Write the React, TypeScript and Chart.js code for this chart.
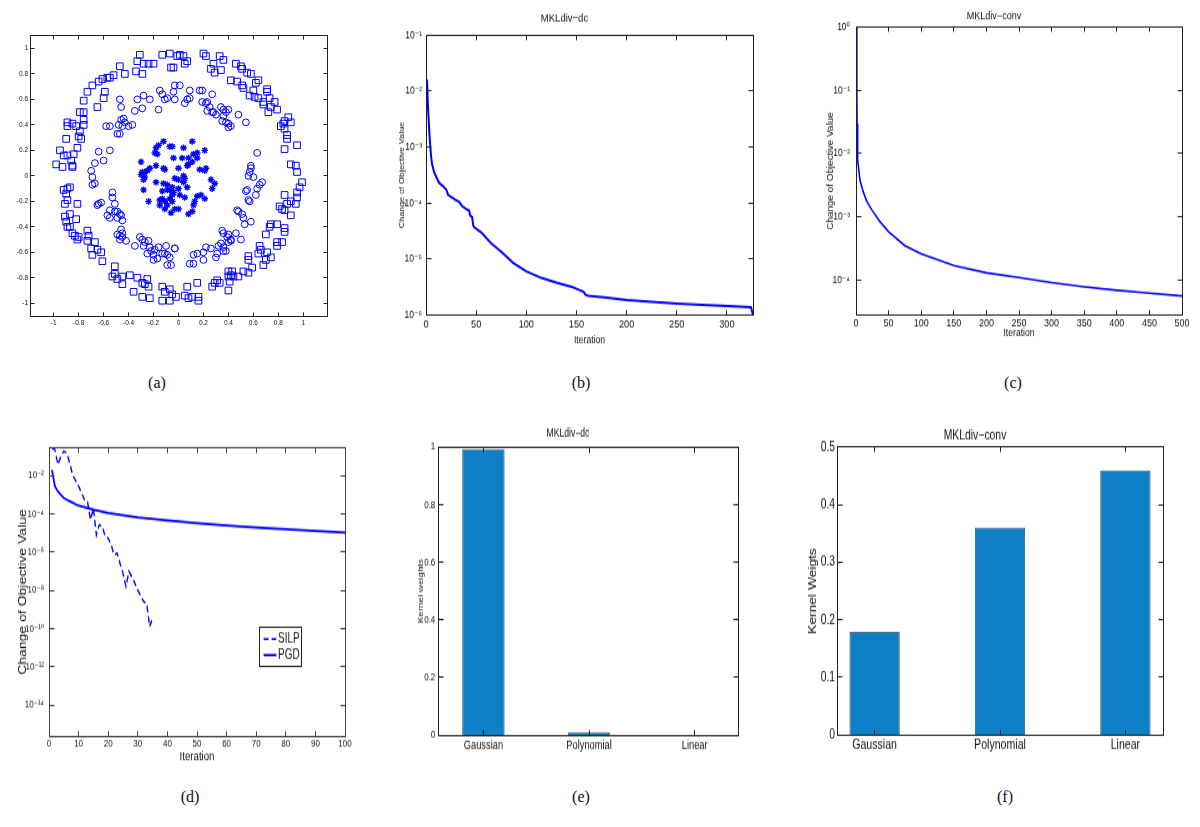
import React, { useEffect, useRef } from 'react';
import { Chart, registerables } from 'chart.js';

Chart.register(...registerables);

// ---------------- data ----------------
// (a) toy data: three concentric classes
const SQUARES: [number, number][] = [
  [-0.13,0.95],[-0.07,0.96],[-0.01,0.94],[-0.06,0.85],[-0.04,0.85],[-0.31,0.95],[-0.33,0.90],[-0.28,0.88],[-0.24,0.88],[-0.20,0.88],
  [-0.34,0.82],[-0.29,0.80],[-0.47,0.86],[-0.43,0.80],[-0.52,0.79],[-0.55,0.77],[-0.57,0.77],[-0.61,0.76],[-0.64,0.74],[-0.69,0.71],
  [-0.73,0.66],[-0.59,0.66],[-0.60,0.61],[-0.76,0.59],[-0.65,0.54],[-0.79,0.50],[-0.76,0.50],[-0.76,0.44],[-0.76,0.40],[-0.89,0.42],
  [-0.85,0.41],[-0.89,0.39],[-0.82,0.39],[-0.79,0.35],[-0.80,0.31],[-0.78,0.29],[-0.90,0.29],[-0.81,0.22],[-0.95,0.20],[-0.92,0.16],
  [-0.89,0.16],[-0.84,0.17],[-0.86,0.12],[-0.85,0.08],[-0.85,0.07],[-0.98,0.09],[-0.93,0.07],[-0.92,-0.11],[-0.89,-0.10],[-0.87,-0.09],
  [-0.90,-0.14],[-0.89,-0.19],[-0.91,-0.22],[-0.81,-0.22],[-0.91,-0.32],[-0.87,-0.30],[-0.90,-0.36],[-0.89,-0.40],[-0.82,-0.34],[-0.87,-0.40],
  [-0.85,-0.45],[-0.83,-0.47],[-0.81,-0.50],[-0.80,-0.48],[-0.73,-0.43],[-0.72,-0.47],[-0.73,-0.51],[-0.67,-0.52],[-0.70,-0.57],[-0.69,-0.62],
  [-0.65,-0.58],[-0.62,-0.60],[-0.61,-0.67],[-0.51,-0.71],[-0.53,-0.79],[-0.51,-0.77],[-0.49,-0.81],[-0.45,-0.79],[-0.45,-0.85],[-0.39,-0.78],
  [-0.33,-0.80],[-0.29,-0.84],[-0.25,-0.81],[-0.27,-0.85],[-0.24,-0.87],[-0.36,-0.91],[-0.29,-0.95],[-0.23,-0.96],[-0.13,-0.87],[-0.11,-0.91],
  [-0.07,-0.89],[-0.05,-0.93],[-0.02,-0.95],[-0.13,-0.98],[-0.07,-0.98],
  [0.01,0.95],[0.04,0.94],[0.05,0.88],[0.07,0.90],[0.20,0.96],[0.22,0.94],[0.28,0.88],[0.26,0.84],[0.29,0.81],[0.34,0.83],
  [0.33,0.94],[0.36,0.91],[0.46,0.88],[0.50,0.86],[0.51,0.84],[0.55,0.81],[0.58,0.80],[0.42,0.75],[0.47,0.74],[0.51,0.71],
  [0.52,0.69],[0.64,0.75],[0.62,0.73],[0.60,0.67],[0.57,0.63],[0.61,0.62],[0.64,0.61],[0.71,0.68],[0.71,0.66],[0.73,0.61],
  [0.68,0.58],[0.68,0.56],[0.74,0.54],[0.77,0.58],[0.79,0.52],[0.72,0.50],[0.85,0.43],[0.88,0.46],[0.90,0.42],[0.84,0.41],
  [0.82,0.39],[0.85,0.37],[0.87,0.32],[0.87,0.29],[0.95,0.24],[0.85,0.21],[0.90,0.09],[0.94,0.08],[0.95,0.03],[0.99,-0.05],
  [0.97,-0.09],[0.95,-0.13],[0.95,-0.17],[0.94,-0.22],[0.90,-0.20],[0.85,-0.15],[0.87,-0.22],[0.81,-0.24],[0.83,-0.26],[0.90,-0.31],
  [0.85,-0.27],[0.74,-0.38],[0.79,-0.38],[0.73,-0.40],[0.70,-0.46],[0.85,-0.41],[0.85,-0.44],[0.83,-0.52],[0.79,-0.52],[0.79,-0.55],
  [0.65,-0.55],[0.66,-0.58],[0.64,-0.61],[0.71,-0.60],[0.74,-0.64],[0.70,-0.66],[0.68,-0.70],[0.56,-0.63],[0.56,-0.66],[0.59,-0.72],
  [0.52,-0.75],[0.56,-0.76],[0.40,-0.75],[0.43,-0.75],[0.42,-0.78],[0.44,-0.79],[0.40,-0.79],[0.41,-0.83],[0.48,-0.79],[0.40,-0.90],
  [0.31,-0.82],[0.29,-0.84],[0.27,-0.87],[0.33,-0.84],[0.15,-0.84],[0.07,-0.87],[0.05,-0.94],[0.08,-0.96],[0.11,-0.95],[0.16,-0.95],
  [0.16,-0.98],
];

const CIRCLES: [number, number][] = [
  [-0.15,0.67],[-0.13,0.64],[-0.11,0.60],[-0.09,0.61],[-0.16,0.52],[-0.23,0.60],[-0.28,0.63],[-0.29,0.53],[-0.33,0.60],[-0.35,0.51],
  [-0.47,0.60],[-0.46,0.54],[-0.44,0.45],[-0.46,0.44],[-0.48,0.40],[-0.45,0.39],[-0.43,0.42],[-0.40,0.39],[-0.37,0.40],[-0.55,0.39],
  [-0.58,0.39],[-0.49,0.33],[-0.47,0.33],[-0.64,0.19],[-0.67,0.10],[-0.55,0.20],[-0.60,0.12],[-0.70,0.04],[-0.69,-0.01],[-0.67,-0.06],
  [-0.69,-0.07],[-0.65,-0.23],[-0.64,-0.22],[-0.62,-0.21],[-0.53,-0.13],[-0.53,-0.17],[-0.51,-0.22],[-0.55,-0.27],[-0.55,-0.33],[-0.57,-0.31],
  [-0.51,-0.28],[-0.49,-0.28],[-0.47,-0.30],[-0.46,-0.31],[-0.49,-0.33],[-0.45,-0.35],[-0.49,-0.46],[-0.47,-0.47],[-0.46,-0.42],[-0.45,-0.45],
  [-0.45,-0.48],[-0.47,-0.50],[-0.42,-0.51],[-0.35,-0.55],[-0.31,-0.48],[-0.29,-0.50],[-0.27,-0.52],[-0.28,-0.55],[-0.24,-0.51],[-0.23,-0.56],
  [-0.25,-0.61],[-0.22,-0.59],[-0.20,-0.62],[-0.20,-0.66],[-0.17,-0.65],[-0.19,-0.58],[-0.16,-0.56],[-0.10,-0.55],[-0.11,-0.61],[-0.13,-0.61],
  [-0.09,-0.62],[-0.07,-0.64],[-0.09,-0.70],[-0.06,-0.70],[-0.03,-0.57],
  [-0.03,0.71],[0.01,0.71],[-0.04,0.66],[-0.03,0.60],[0.05,0.57],[0.07,0.60],[0.09,0.61],[0.09,0.67],[0.17,0.67],[0.19,0.67],
  [0.27,0.64],[0.19,0.58],[0.22,0.57],[0.23,0.58],[0.25,0.54],[0.27,0.50],[0.23,0.51],[0.28,0.50],[0.30,0.48],[0.34,0.54],
  [0.36,0.52],[0.40,0.52],[0.38,0.50],[0.36,0.47],[0.35,0.43],[0.38,0.42],[0.40,0.41],[0.42,0.39],[0.40,0.38],[0.48,0.48],
  [0.54,0.42],[0.63,0.18],[0.58,0.08],[0.58,0.06],[0.57,0.03],[0.56,0.00],[0.60,-0.01],[0.67,-0.05],[0.65,-0.07],[0.63,-0.10],
  [0.62,-0.15],[0.55,-0.11],[0.54,-0.12],[0.56,-0.19],[0.57,-0.20],[0.47,-0.27],[0.48,-0.28],[0.51,-0.30],[0.52,-0.33],[0.58,-0.36],
  [0.53,-0.38],[0.35,-0.43],[0.36,-0.45],[0.40,-0.46],[0.39,-0.48],[0.42,-0.50],[0.40,-0.52],[0.42,-0.51],[0.46,-0.45],[0.50,-0.50],
  [0.34,-0.53],[0.32,-0.55],[0.36,-0.56],[0.38,-0.59],[0.36,-0.59],[0.31,-0.61],[0.26,-0.57],[0.22,-0.56],[0.20,-0.60],[0.15,-0.61],
  [0.12,-0.62],[0.09,-0.69],[0.12,-0.69],[0.20,-0.66],[0.30,-0.64],[-0.03,-0.57],
];

const STARS: [number, number][] = [
  [-0.12,0.27],[0.11,0.27],[-0.07,0.23],[-0.05,0.23],[-0.18,0.22],[-0.16,0.24],[0.04,0.22],[0.21,0.20],[-0.19,0.18],[-0.17,0.17],
  [0.15,0.18],[0.12,0.17],[-0.04,0.14],[0.03,0.14],[0.08,0.14],[0.15,0.14],[0.11,0.11],[-0.30,0.11],[-0.18,0.08],[0.08,0.09],
  [0.07,0.08],[-0.12,0.06],[-0.11,0.05],[-0.23,0.06],[-0.25,0.04],[-0.27,0.03],[-0.29,0.03],[0.00,0.06],[0.17,0.05],[0.22,0.06],
  [0.21,0.04],[-0.30,0.01],[-0.27,-0.01],[-0.28,-0.03],[-0.03,-0.02],[0.00,-0.03],[0.04,0.00],[0.05,-0.02],[0.04,-0.05],[0.26,-0.03],
  [0.29,-0.06],[0.27,-0.10],[-0.18,-0.05],[-0.12,-0.06],[-0.09,-0.07],[-0.07,-0.11],[-0.05,-0.09],[-0.04,-0.13],[0.00,-0.10],[0.07,-0.09],
  [0.01,-0.15],[-0.05,-0.15],[-0.09,-0.11],[-0.13,-0.12],[-0.28,-0.11],[-0.24,-0.20],[-0.15,-0.19],[-0.13,-0.18],[-0.11,-0.20],[-0.09,-0.23],
  [-0.07,-0.18],[-0.05,-0.20],[-0.03,-0.26],[-0.06,-0.29],[0.00,-0.26],[-0.11,-0.26],[-0.15,-0.23],[0.08,-0.30],[0.11,-0.28],[0.12,-0.23],
  [0.13,-0.20],[0.15,-0.16],[0.18,-0.15],[0.21,-0.18],[0.05,-0.17],
];
const A_TICKS = [-1, -0.8, -0.6, -0.4, -0.2, 0, 0.2, 0.4, 0.6, 0.8, 1];

// (b) MKLdiv-dc convergence
const DC_ITER = [1,2,3,4,5,6,8,10,13,17,20,21,22,26,30,33,36,40,43,44,46,47,48,55,65,75,87,100,115,130,145,157,159,162,180,200,225,250,275,300,324,326];
const DC_CHANGE = [1.6e-2,5e-3,2.3e-3,1.2e-3,7e-4,5e-4,3.6e-4,3e-4,2.3e-4,2e-4,1.75e-4,1.6e-4,1.4e-4,1.25e-4,1.12e-4,1.05e-4,8.8e-5,7.8e-5,7.3e-5,6e-5,5.6e-5,4e-5,3.7e-5,3e-5,1.9e-5,1.35e-5,8.5e-6,6e-6,4.6e-6,3.8e-6,3.2e-6,2.6e-6,2.3e-6,2.2e-6,2.05e-6,1.86e-6,1.72e-6,1.6e-6,1.52e-6,1.45e-6,1.38e-6,1e-6];
const B_XTICKS = [0, 50, 100, 150, 200, 250, 300];
const B_YTICKS = [1e-6, 1e-5, 1e-4, 1e-3, 1e-2, 1e-1];

// (c) MKLdiv-conv convergence
const CONV_ITER = [1,1.3,1.6,2,3,4,6,11,16,24,37,50,75,100,150,200,250,300,350,400,450,500];
const CONV_CHANGE = [1.0,0.1,0.03,0.015,8e-3,5.8e-3,3.8e-3,2.5e-3,1.8e-3,1.3e-3,8.3e-4,5.8e-4,3.5e-4,2.6e-4,1.7e-4,1.3e-4,1.1e-4,9.1e-5,7.8e-5,6.9e-5,6.2e-5,5.6e-5];
const C_XTICKS = [0, 50, 100, 150, 200, 250, 300, 350, 400, 450, 500];
const C_YTICKS = [1e-4, 1e-3, 1e-2, 1e-1, 1];

// (d) SILP vs PGD
const SILP_ITER = [1,2,3,4,5,6,7,8,9,10,11,12,13,14,15,16,17,18,19,20,21,22,23,24,25,26,27,28,29,30,31,32,33,34,35];
const SILP_CHANGE = [0.28,0.23,0.038,0.1,0.19,0.155,0.046,0.011,5.6e-3,2.8e-3,1.3e-3,5.5e-4,4.6e-4,4.9e-5,2e-4,8.1e-6,2.7e-5,2.2e-5,6.6e-6,5.4e-6,2.4e-6,7.2e-7,8.9e-7,2.6e-7,7.9e-8,1.6e-8,9.8e-8,5.2e-8,2.4e-8,1.07e-8,4.8e-9,2.6e-9,2.1e-9,1.26e-10,3.5e-10];
const PGD_ITER = [1,2,3,5,7,10,15,20,30,40,50,60,70,80,90,100];
const PGD_CHANGE = [2e-2,2.8e-3,1.5e-3,6.8e-4,4.6e-4,2.7e-4,1.66e-4,1.1e-4,6.6e-5,4.6e-5,3.3e-5,2.5e-5,1.95e-5,1.6e-5,1.3e-5,1.07e-5];
const D_XTICKS = [0, 10, 20, 30, 40, 50, 60, 70, 80, 90, 100];
const D_YTICKS = [1e-14, 1e-12, 1e-10, 1e-8, 1e-6, 1e-4, 1e-2];

// (e),(f) kernel weights
const KERNELS = ['Gaussian', 'Polynomial', 'Linear'];
const DC_WEIGHTS = [0.993, 0.009, 0.0005];
const CONV_WEIGHTS = [0.179, 0.36, 0.4595];
const E_YTICKS = [0, 0.2, 0.4, 0.6, 0.8, 1];
const F_YTICKS = [0, 0.1, 0.2, 0.3, 0.4, 0.5];

// ---------------- styling helpers ----------------
const BLUE = '#0000ff';
const BAR = '#0e80c6';
const SANS = '"Liberation Sans", Arial, "DejaVu Sans", sans-serif';
const INK = '#111';

const SUP: Record<string, string> = { '-': '\u207B', '0': '\u2070', '1': '\u00B9', '2': '\u00B2', '3': '\u00B3', '4': '\u2074', '5': '\u2075', '6': '\u2076', '7': '\u2077', '8': '\u2078', '9': '\u2079' };
const pow10 = (v: number) => '10' + String(Math.round(Math.log10(v))).split('').map((c) => SUP[c]).join('');
const fmtNum = (v: number) => String(Math.round(v * 10) / 10);

const fixW = (w: number) => (s: any) => { s.width = w; };
const fixH = (h: number) => (s: any) => { s.height = h; };
const setTicks = (vals: number[]) => (s: any) => { s.ticks = vals.map((v) => ({ value: v })); };
const noGrid = { display: false, drawTicks: false, tickLength: 0 };
const font = (size: number) => ({ family: SANS, size, lineHeight: 1.2 });

// MATLAB-style box with inward ticks, snapped to the canvas pixel grid
const matlabBox = {
  id: 'matlabBox',
  afterDatasetsDraw(chart: any, _args: any, opts: any) {
    const { ctx, chartArea: ca, scales } = chart;
    const sy = opts.sy ?? 1;
    const len = opts.tickLen ?? 5;
    const snap = (v: number) => Math.round(v - 0.5) + 0.5;
    const L = snap(ca.left), R = snap(ca.right), T = snap(ca.top), B = snap(ca.bottom);
    const xs = scales.x, ys = scales.y;
    const lenY = Math.max(2, Math.round(len / sy));
    ctx.save();
    ctx.strokeStyle = opts.color || '#222';
    ctx.lineWidth = 1;
    ctx.beginPath();
    xs.ticks.forEach((t: any) => {
      const p = snap(xs.getPixelForValue(t.value));
      ctx.moveTo(p, B); ctx.lineTo(p, B - lenY);
      ctx.moveTo(p, T); ctx.lineTo(p, T + lenY);
    });
    ys.ticks.forEach((t: any) => {
      const p = snap(ys.getPixelForValue(t.value));
      ctx.moveTo(L, p); ctx.lineTo(L + len, p);
      ctx.moveTo(R, p); ctx.lineTo(R - len, p);
    });
    ctx.stroke();
    ctx.strokeRect(L, T, R - L, B - T);
    const lg = opts.legend;
    if (lg) {
      const w = ca.right - ca.left, h = ca.bottom - ca.top;
      const x0 = snap(ca.left + lg.x0 * w), x1 = snap(ca.left + lg.x1 * w);
      const y0 = snap(ca.top + lg.y0 * h), y1 = snap(ca.top + lg.y1 * h);
      ctx.fillStyle = '#fff';
      ctx.fillRect(x0, y0, x1 - x0, y1 - y0);
      ctx.strokeStyle = '#222';
      ctx.strokeRect(x0, y0, x1 - x0, y1 - y0);
      chart.data.datasets.forEach((ds: any, i: number) => {
        const y = ca.top + lg.rows[i] * h;
        ctx.save();
        ctx.strokeStyle = ds.borderColor;
        ctx.lineWidth = ds.borderWidth;
        ctx.setLineDash(ds.borderDash || []);
        ctx.beginPath();
        ctx.moveTo(ca.left + lg.l0 * w, y);
        ctx.lineTo(ca.left + lg.l1 * w, y);
        ctx.stroke();
        ctx.restore();
        ctx.fillStyle = INK;
        ctx.font = `${lg.size}px ${SANS}`;
        ctx.textAlign = 'left';
        ctx.textBaseline = 'middle';
        ctx.fillText(ds.label, ca.left + lg.t0 * w, y);
      });
    }
    ctx.restore();
  },
};

const base = (padTop: number, padRight: number, box: any = {}) => ({
  responsive: false,
  maintainAspectRatio: false,
  animation: false as const,
  devicePixelRatio: 1,
  layout: { padding: { left: 0, top: padTop, right: padRight, bottom: 0 } },
  plugins: { legend: { display: false }, tooltip: { enabled: false }, matlabBox: box } as any,
});

const pts = (xs: number[], ys: number[]) => xs.map((x, i) => ({ x, y: ys[i] }));

// ---------------- chart configs ----------------
function configA(): any {
  const opts: any = base(15.7, 20, { color: '#222', tickLen: 4 });
  opts.scales = {
    x: {
      type: 'linear', min: -1.19, max: 1.19, afterFit: fixH(20), afterBuildTicks: setTicks(A_TICKS),
      grid: noGrid, border: { display: false },
      ticks: { font: font(6.5), color: INK, padding: 3.4, autoSkip: false, maxRotation: 0, callback: (v: number) => fmtNum(v) },
    },
    y: {
      type: 'linear', min: -1.1, max: 1.1, afterFit: fixW(30), afterBuildTicks: setTicks(A_TICKS),
      grid: noGrid, border: { display: false },
      ticks: { font: font(6.5), color: INK, padding: 2, autoSkip: false, callback: (v: number) => fmtNum(v) },
    },
  };
  const mk = (d: [number, number][]) => d.map(([x, y]) => ({ x, y }));
  return {
    type: 'scatter',
    data: {
      datasets: [
        { label: 'squares', data: mk(SQUARES), pointStyle: 'rect', pointRadius: 4.7, borderColor: BLUE, backgroundColor: 'rgba(0,0,0,0)', pointBorderWidth: 1 },
        { label: 'circles', data: mk(CIRCLES), pointStyle: 'circle', pointRadius: 3.4, borderColor: BLUE, backgroundColor: 'rgba(0,0,0,0)', pointBorderWidth: 1 },
        { label: 'stars', data: mk(STARS), pointStyle: 'star', pointRadius: 3.3, borderColor: BLUE, backgroundColor: 'rgba(0,0,0,0)', pointBorderWidth: 1.4 },
      ],
    },
    options: opts,
    plugins: [matlabBox],
  };
}

function convConfig(p: {
  iter: number[]; val: number[]; title: string; titleSize: number; titlePad: [number, number]; sy: number;
  xmax: number; xticks: number[]; ymin: number; ymax: number; yticks: number[];
  ml: number; mr: number; mb: number; xtick: number; ytick: number; xPad: number; yPad: number;
  xtSize: number; xtPad: number; ytSize: number; ytPad: number; width: number;
}): any {
  const opts: any = base(0, p.mr, { color: '#222', tickLen: 5, sy: p.sy });
  opts.plugins.title = {
    display: true, text: p.title, color: INK, font: { ...font(p.titleSize), weight: 'normal' },
    padding: { top: p.titlePad[0], bottom: p.titlePad[1] },
  };
  opts.scales = {
    x: {
      type: 'linear', min: 0, max: p.xmax, afterFit: fixH(p.mb), afterBuildTicks: setTicks(p.xticks),
      grid: noGrid, border: { display: false },
      ticks: { font: font(p.xtick), color: INK, padding: p.xPad, autoSkip: false, maxRotation: 0, callback: (v: number) => String(v) },
      title: { display: true, text: 'Iteration', color: INK, font: font(p.xtSize), padding: { top: 0, bottom: p.xtPad } },
    },
    y: {
      type: 'logarithmic', min: p.ymin, max: p.ymax, afterFit: fixW(p.ml), afterBuildTicks: setTicks(p.yticks),
      grid: noGrid, border: { display: false },
      ticks: { font: font(p.ytick), color: INK, padding: p.yPad, autoSkip: false, callback: (v: number) => pow10(v) },
      title: { display: true, text: 'Change of Objective Value', color: INK, font: font(p.ytSize), padding: { top: p.ytPad, bottom: 0 } },
    },
  };
  return {
    type: 'line',
    data: { datasets: [{ label: p.title, data: pts(p.iter, p.val), borderColor: BLUE, borderWidth: p.width, pointRadius: 0, tension: 0, fill: false }] },
    options: opts,
    plugins: [matlabBox],
  };
}

function configD(): any {
  const opts: any = base(20.74, 15, {
    color: '#444', tickLen: 5, sy: 1.35,
    legend: { x0: 0.71, x1: 0.854, y0: 0.62, y1: 0.759, rows: [0.663, 0.719], l0: 0.725, l1: 0.768, t0: 0.774, size: 10 },
  });
  opts.scales = {
    x: {
      type: 'linear', min: 0, max: 100, afterFit: fixH(25.93), afterBuildTicks: setTicks(D_XTICKS),
      grid: noGrid, border: { display: false },
      ticks: { font: font(8), color: INK, padding: 0.6, autoSkip: false, maxRotation: 0, callback: (v: number) => String(v) },
      title: { display: true, text: 'Iteration', color: INK, font: font(9.7), padding: { top: 0, bottom: 5.3 } },
    },
    y: {
      type: 'logarithmic', min: 2.4e-16, max: 0.28, afterFit: fixW(49), afterBuildTicks: setTicks(D_YTICKS),
      grid: noGrid, border: { display: false },
      ticks: { font: font(8), color: INK, padding: 5, autoSkip: false, callback: (v: number) => pow10(v) },
      title: { display: true, text: 'Change of Objective Value', color: INK, font: font(10.4), padding: { top: 16.5, bottom: 0 } },
    },
  };
  return {
    type: 'line',
    data: {
      datasets: [
        { label: 'SILP', data: pts(SILP_ITER, SILP_CHANGE), borderColor: BLUE, borderWidth: 1.4, borderDash: [5, 3], pointRadius: 0, tension: 0, fill: false },
        { label: 'PGD', data: pts(PGD_ITER, PGD_CHANGE), borderColor: BLUE, borderWidth: 1.7, pointRadius: 0, tension: 0, fill: false },
      ],
    },
    options: opts,
    plugins: [matlabBox],
  };
}

function barConfig(p: {
  weights: number[]; title: string; titleSize: number; titlePad: [number, number]; sy: number;
  xmin: number; xmax: number; ymax: number; yticks: number[]; ylabel: string;
  ml: number; mr: number; mb: number; catSize: number; catPad: number; tickSize: number; yPad: number;
  ytSize: number; ytPad: number;
}): any {
  const opts: any = base(0, p.mr, { color: '#222', tickLen: 5, sy: p.sy });
  opts.plugins.title = {
    display: true, text: p.title, color: INK, font: { ...font(p.titleSize), weight: 'normal' },
    padding: { top: p.titlePad[0], bottom: p.titlePad[1] },
  };
  opts.scales = {
    x: {
      type: 'linear', min: p.xmin, max: p.xmax, offset: false, afterFit: fixH(p.mb), afterBuildTicks: setTicks([1, 2, 3]),
      grid: { ...noGrid, offset: false }, border: { display: false },
      ticks: { font: font(p.catSize), color: INK, padding: p.catPad, autoSkip: false, maxRotation: 0, callback: (v: number) => KERNELS[Math.round(v) - 1] },
    },
    y: {
      type: 'linear', min: 0, max: p.ymax, afterFit: fixW(p.ml), afterBuildTicks: setTicks(p.yticks),
      grid: noGrid, border: { display: false },
      ticks: { font: font(p.tickSize), color: INK, padding: p.yPad, autoSkip: false, callback: (v: number) => fmtNum(v) },
      title: { display: true, text: p.ylabel, color: INK, font: font(p.ytSize), padding: { top: p.ytPad, bottom: 0 } },
    },
  };
  return {
    type: 'bar',
    data: {
      datasets: [{
        label: p.title, data: p.weights.map((w, i) => ({ x: i + 1, y: w })),
        backgroundColor: BAR, borderColor: '#1d3550', borderWidth: 0.8, categoryPercentage: 0.8, barPercentage: 0.5,
      }],
    },
    options: opts,
    plugins: [matlabBox],
  };
}

// ---------------- components ----------------
function Panel({ left, top, width, height, sy = 1, make }: { left: number; top: number; width: number; height: number; sy?: number; make: () => any }) {
  const ref = useRef<HTMLCanvasElement>(null);
  useEffect(() => {
    const chart = new Chart(ref.current as HTMLCanvasElement, make());
    return () => chart.destroy();
  }, []);
  return (
    <canvas
      ref={ref}
      width={width}
      height={height}
      style={{ position: 'absolute', left, top, width, height, transform: `scale(1, ${sy})`, transformOrigin: '0 0' }}
    />
  );
}

function Caption({ x, y, text }: { x: number; y: number; text: string }) {
  return (
    <div style={{ position: 'absolute', left: x, top: y, transform: 'translate(-50%, -50%)', fontFamily: '"Liberation Serif", "DejaVu Serif", serif', fontSize: 16, color: '#111', whiteSpace: 'nowrap' }}>
      {text}
    </div>
  );
}

export default function App() {
  return (
    <div style={{ position: 'fixed', left: 0, top: 0, width: 1200, height: 827, background: '#fff', overflow: 'hidden' }}>
      <Panel left={0} top={20} width={347} height={316} make={configA} />
      <Panel left={376} top={0} width={397} height={293} sy={1.2} make={() => convConfig({
        iter: DC_ITER, val: DC_CHANGE, title: 'MKLdiv\u2212dc', titleSize: 9.5, titlePad: [9.3, 8.47], sy: 1.2,
        xmax: 326, xticks: B_XTICKS, ymin: 1e-6, ymax: 1e-1, yticks: B_YTICKS,
        ml: 50, mr: 20, mb: 30.5, xtick: 9.2, ytick: 8.5, xPad: 2, yPad: 4, xtSize: 8.6, xtPad: 4.5, ytSize: 7.5, ytPad: 21.2, width: 2,
      })} />
      <Panel left={806} top={0} width={390} height={292} sy={1.2} make={() => convConfig({
        iter: CONV_ITER, val: CONV_CHANGE, title: 'MKLdiv\u2212conv', titleSize: 9, titlePad: [7.9, 3.8], sy: 1.2,
        xmax: 500, xticks: C_XTICKS, ymin: 2.8e-5, ymax: 1, yticks: C_YTICKS,
        ml: 50, mr: 14, mb: 29.5, xtick: 9, ytick: 8.5, xPad: 2.1, yPad: 6, xtSize: 8.6, xtPad: 9.3, ytSize: 8.3, ytPad: 19.5, width: 1.6,
      })} />
      <Panel left={0} top={420} width={360} height={260} sy={1.35} make={configD} />
      <Panel left={398} top={420} width={355} height={240} sy={1.4} make={() => barConfig({
        weights: DC_WEIGHTS, title: 'MKLdiv\u2212dc', titleSize: 8.6, titlePad: [4.34, 4.63], sy: 1.4,
        xmin: 0.57, xmax: 3.41, ymax: 1, yticks: E_YTICKS, ylabel: 'Kernel weights',
        ml: 40, mr: 15, mb: 15, catSize: 9.3, catPad: 1.5, tickSize: 8, yPad: 2.7, ytSize: 7, ytPad: 18.5,
      })} />
      <Panel left={787} top={420} width={391} height={265} sy={1.3} make={() => barConfig({
        weights: CONV_WEIGHTS, title: 'MKLdiv\u2212conv', titleSize: 10.4, titlePad: [6.06, 2.23], sy: 1.3,
        xmin: 0.7, xmax: 3.3, ymax: 0.5, yticks: F_YTICKS, ylabel: 'Kernel Weigts',
        ml: 50, mr: 15, mb: 22.7, catSize: 10.6, catPad: 1.3, tickSize: 10.3, yPad: 2, ytSize: 10.6, ytPad: 19.3,
      })} />
      <Caption x={157} y={383} text="(a)" />
      <Caption x={581} y={383} text="(b)" />
      <Caption x={1013} y={383} text="(c)" />
      <Caption x={190} y={797} text="(d)" />
      <Caption x={581} y={797} text="(e)" />
      <Caption x={1005} y={797} text="(f)" />
    </div>
  );
}
